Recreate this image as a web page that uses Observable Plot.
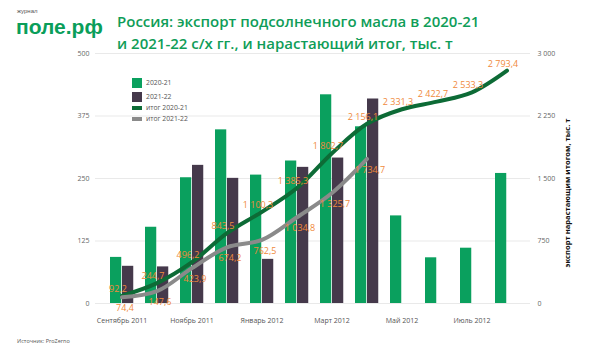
<!DOCTYPE html>
<html><head><meta charset="utf-8">
<script src="https://cdn.jsdelivr.net/npm/d3@7"></script>
<script src="https://cdn.jsdelivr.net/npm/@observablehq/plot@0.6"></script>
<style>
body{margin:0;background:#fff;}
#wrap{position:relative;width:600px;height:352px;font-family:"Open Sans",sans-serif;overflow:hidden;}
#wrap svg{position:absolute;left:0;top:0;}
.ov{position:absolute;white-space:nowrap;}
#logo1{left:17px;top:7.5px;font-family:"Liberation Sans",sans-serif;font-size:6px;line-height:6px;color:#555;}
#logo2{left:16px;top:18.5px;font-family:"Liberation Sans",sans-serif;font-size:21px;line-height:16px;font-weight:700;color:#0a9e5a;}
#title{left:117px;top:10px;font-size:15px;font-weight:600;color:#0f9d58;line-height:22px;}
#src{left:17px;top:337px;font-size:5.5px;color:#555;}
#ytitle{left:567px;top:193px;font-size:7.6px;font-weight:700;color:#111;transform:translate(-50%,-50%) rotate(-90deg);}
.lg{position:absolute;font-size:6.8px;color:#555;white-space:nowrap;}
.sw{position:absolute;}
</style></head>
<body>
<div id="wrap">
  <div class="ov" id="logo1">журнал</div>
  <div class="ov" id="logo2">поле.рф</div>
  <div class="ov" id="title">Россия: экспорт подсолнечного масла в 2020-21<br>и 2021-22 с/х гг., и нарастающий итог, тыс. т</div>
  <div class="ov" id="src">Источник: ProZerno</div>
  <div class="ov" id="ytitle">экспорт нарастающим итогом, тыс. т</div>
  <div class="sw" style="left:132px;top:78px;width:10px;height:10px;background:#0aa05e"></div>
  <div class="lg" style="left:146px;top:78px;">2020-21</div>
  <div class="sw" style="left:132px;top:92px;width:10px;height:10px;background:#45394b"></div>
  <div class="lg" style="left:146px;top:92px;">2021-22</div>
  <div class="sw" style="left:132px;top:106px;width:10px;height:4px;background:#0d6b36"></div>
  <div class="lg" style="left:146px;top:103px;">итог 2020-21</div>
  <div class="sw" style="left:132px;top:117px;width:10px;height:4px;background:#8a8a8a"></div>
  <div class="lg" style="left:146px;top:114px;">итог 2021-22</div>
</div>
<script>
const months = ["Сентябрь 2011","Октябрь 2011","Ноябрь 2011","Декабрь 2011","Январь 2012","Февраль 2012","Март 2012","Апрель 2012","Май 2012","Июнь 2012","Июль 2012","Август 2012"];
const tickMonths = ["Сентябрь 2011","Ноябрь 2011","Январь 2012","Март 2012","Май 2012","Июль 2012"];
const exp2021 = [92.2,152.5,251.5,347.3,256.8,285.0,417.4,353.4,175.2,91.4,110.6,260.1];
const exp2122 = [74.4,73.2,276.3,250.3,88.3,272.3,290.9,409.0];
const cum2021 = [92.2,244.7,496.2,843.5,1100.3,1385.3,1802.7,2156.1,2331.3,2422.7,2533.3,2793.4];
const cum2122 = [74.4,147.6,423.9,674.2,762.5,1034.8,1325.7,1734.7];
const leftTicks = [0,125,250,375,500];
const rightTicks = [0,750,1500,2250,3000];

const ratio = 3000/500;
const loc = d3.formatLocale({decimal:",",thousands:"\u00a0",grouping:[3],currency:["",""]});
const f1 = loc.format(",.1f"), f0 = loc.format(",.0f");

const bars1 = months.map((m,i)=>({m, v:exp2021[i]}));
const bars2 = exp2122.map((v,i)=>({m:months[i], v}));
const c1 = months.map((m,i)=>({m, c:cum2021[i]}));
const c2 = cum2122.map((c,i)=>({m:months[i], c}));

const chart = Plot.plot({
  width:600, height:352,
  marginLeft:99, marginRight:72, marginTop:53, marginBottom:49,
  style:{fontFamily:"Open Sans, sans-serif", fontSize:"7px", color:"#555", background:"transparent"},
  x:{type:"band", domain:months, padding:0},
  y:{domain:[0,500]},
  marks:[
    Plot.ruleY(leftTicks, {stroke:"#e9e9e9", strokeWidth:1, insetLeft:-4, insetRight:-2}),
    Plot.barY(bars1, {x:"m", y:"v", fill:"#0aa05e", insetLeft:6, insetRight:17.75}),
    Plot.barY(bars2, {x:"m", y:"v", fill:"#45394b", insetLeft:18, insetRight:5.75}),
    Plot.line(c1, {x:"m", y:d=>d.c/ratio, stroke:"#0d6b36", strokeWidth:4, curve:"catmull-rom"}),
    Plot.line(c2, {x:"m", y:d=>d.c/ratio, stroke:"#8a8a8a", strokeWidth:4, curve:"catmull-rom"}),
    Plot.text(c1, {x:"m", y:d=>d.c/ratio, text:d=>f1(d.c), fill:"#f08a3c", fontSize:9, dx:-4, dy:-7}),
    Plot.text(c2, {x:"m", y:d=>d.c/ratio, text:d=>f1(d.c), fill:"#f08a3c", fontSize:9, dx:3, dy:11}),
    Plot.axisY({ticks:leftTicks, tickSize:0, tickPadding:10, label:null, fill:"#666"}),
    Plot.axisY({anchor:"right", ticks:leftTicks, tickSize:0, tickPadding:9, label:null, tickFormat:d=>f0(d*ratio), fill:"#666"}),
    Plot.axisX({ticks:tickMonths, tickSize:0, tickPadding:15, label:null, fill:"#555"})
  ]
});
document.getElementById("wrap").prepend(chart);
</script>
</body></html>
